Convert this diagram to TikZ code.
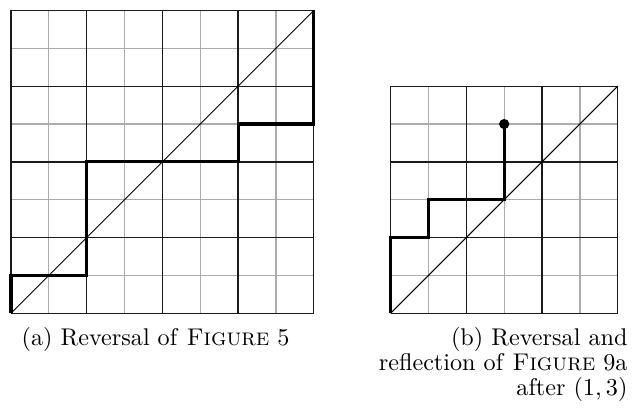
\documentclass[tikz,border=0pt]{standalone}
\usepackage{tikz}
\usetikzlibrary{positioning}
\definecolor{GridMinor}{HTML}{ABABAB}
\definecolor{GridMajor}{HTML}{1A1A1A}
\tikzset{
  minorline/.style={GridMinor,line width=0.6pt},
  majorline/.style={GridMajor,line width=0.6pt},
  diagline/.style={black,line width=0.45pt},
  walk/.style={black,line width=1.4pt,line join=miter},
  endpoint/.style={black},
  caplabel/.style={text=black,font=\fontsize{10.9}{11.3}\selectfont,inner sep=0pt},
}
\newcommand{\lattice}[3]{%
  \begin{scope}[shift={(#1,#2)}]
    \foreach \i in {1,3,...,#3} {
      \draw[minorline] (\i,0) -- (\i,#3);
      \draw[minorline] (0,\i) -- (#3,\i);
    }
    \foreach \i in {0,2,...,#3} {
      \draw[majorline] (\i,0) -- (\i,#3);
      \draw[majorline] (0,\i) -- (#3,\i);
    }
    \draw[diagline] (0,0) -- (#3,#3);
  \end{scope}%
}

\begin{document}
\begin{tikzpicture}[x=.6cm,y=.6cm]
    \useasboundingbox (-0.29,-2.555) rectangle (16.46,8.277);
    % (a) reversal, 8x8
    \lattice{0}{0}{8}
    \draw[walk] (0,0) -- (0,1) -- (2,1) -- (2,4) -- (6,4) -- (6,5) -- (8,5) -- (8,8);
    \node[caplabel,anchor=base] (capa) at (3.82,-0.864)
      {(a) Reversal of \textsc{Figure} 5};

    % (b) reversal and reflection, 6x6
    \lattice{10.03}{0}{6}
    \begin{scope}[shift={(10.03,0)}]
      \draw[walk] (0,0) -- (0,2) -- (1,2) -- (1,3) -- (3,3) -- (3,5);
      \fill[endpoint] (3,5) circle (2.3pt);
    \end{scope}
    \node[caplabel,anchor=north east,align=right] (capb) at (16.30,-0.37)
      {(b) Reversal and\\reflection of \textsc{Figure} 9a\\after $(1,3)$};
\end{tikzpicture}
\end{document}
